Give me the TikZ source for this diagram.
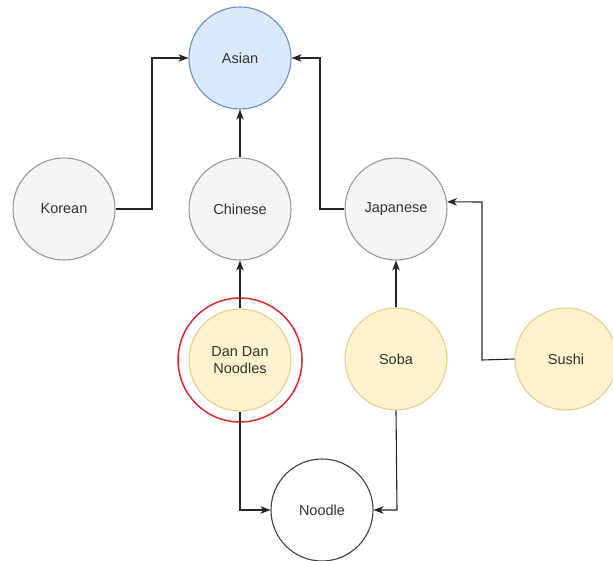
\documentclass[tikz,border=0pt]{standalone}
\usepackage{fontspec}
\setmainfont{Liberation Sans}
\usetikzlibrary{arrows.meta}
\definecolor{bluefill}{HTML}{DAE8FC}
\definecolor{bluedraw}{HTML}{6C8EBF}
\definecolor{grayfill}{HTML}{F5F5F5}
\definecolor{graydraw}{HTML}{9A9A9A}
\definecolor{yelfill}{HTML}{FFF2CC}
\definecolor{yeldraw}{HTML}{E6D08F}
\definecolor{txt}{HTML}{333333}
\definecolor{ringred}{HTML}{E0282E}
\begin{document}
\begin{tikzpicture}[x=1pt,y=-1pt,
  circ/.style={circle,minimum size=102pt,inner sep=0pt,line width=1.1pt,align=center,
    text=txt,font=\fontsize{14.5}{17}\selectfont},
  bluec/.style={circ,fill=bluefill,draw=bluedraw},
  grayc/.style={circ,fill=grayfill,draw=graydraw},
  yelc/.style={circ,fill=yelfill,draw=yeldraw},
  whitec/.style={circ,fill=white,draw=black!75},
  conn/.style={draw=black!85,line width=1.1pt,-{Stealth[length=10pt,width=7.5pt,inset=3pt]}},
  ring/.style={circle,minimum size=124pt,inner sep=0pt,draw=ringred,line width=1.5pt}]
\useasboundingbox (0,0) rectangle (613,561);
\clip (0,0) rectangle (613,561);
\node[bluec] (asian) at (240,58) {Asian};
\node[grayc] (korean) at (64,209) {Korean};
\node[grayc] (chinese) at (240,209) {Chinese};
\node[grayc] (japanese) at (396,209) {Japanese};
\node[ring] (redring) at (240,360) {};
\node[yelc] (dandan) at (240,360) {Dan Dan\\Noodles};
\node[yelc] (soba) at (396,359) {Soba};
\node[yelc] (sushi) at (566,359) {Sushi};
\node[whitec] (noodle) at (322,510) {Noodle};
\coordinate (k1) at (152,209);
\coordinate (k2) at (152,58);
\coordinate (j1) at (320,209);
\coordinate (j2) at (320,58);
\coordinate (s1) at (482,360);
\coordinate (s2) at (482,202);
\coordinate (d1) at (240,510);
\coordinate (b1) at (397,510);
\draw[conn] (korean.east) -- (k1) -- (k2) -- (asian.west);
\draw[conn] (chinese.north) -- (asian.south);
\draw[conn] (japanese.west) -- (j1) -- (j2) -- (asian.east);
\draw[conn] (dandan.north) -- (chinese.south);
\draw[conn] (soba.north) -- (japanese.south);
\draw[conn] (sushi.west) -- (s1) -- (s2) -- (japanese.8);
\draw[conn] (dandan.south) -- (d1) -- (noodle.west);
\draw[conn] (soba.south) -- (b1) -- (noodle.east);
\end{tikzpicture}
\end{document}
